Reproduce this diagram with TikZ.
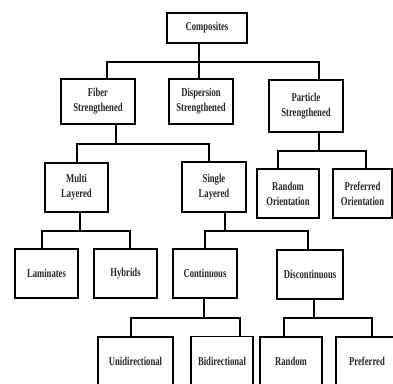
\documentclass[tikz,border=0pt]{standalone}
\usepackage{fontspec}
\setmainfont{Liberation Serif}[FakeStretch=0.72]
\begin{document}
\begin{tikzpicture}[x=1pt,y=-1pt,
  box/.style={draw=black,line width=1.7pt,fill=white,inner sep=0pt,align=center,
    font=\fontsize{12}{15}\selectfont\bfseries,text=black!85},
  conn/.style={line width=1.7pt,line join=miter}]
\useasboundingbox (0,0) rectangle (393,383);
\clip (0,0) rectangle (393,383);
% level 0
\node[box,minimum width=80pt,minimum height=30pt] (comp) at (207,28) {Composites};
% level 1
\node[box,minimum width=74pt,minimum height=45pt] (fib) at (98,101.5) {Fiber\\Strengthened};
\node[box,minimum width=64pt,minimum height=45pt] (dis) at (201,101.5) {Dispersion\\Strengthened};
\node[box,minimum width=74pt,minimum height=52pt] (part) at (306,106) {Particle\\Strengthened};
% level 2
\node[box,minimum width=63pt,minimum height=49pt] (multi) at (76.5,187.5) {Multi\\Layered};
\node[box,minimum width=64pt,minimum height=50pt] (single) at (214,187) {Single\\Layered};
\node[box,minimum width=62pt,minimum height=49pt] (ro) at (288,193.5) {Random\\Orientation};
\node[box,minimum width=59pt,minimum height=49pt] (po) at (362.5,193.5) {Preferred\\Orientation};
% level 3
\node[box,minimum width=63pt,minimum height=49pt] (lam) at (46.5,273.5) {Laminates};
\node[box,minimum width=63pt,minimum height=49pt] (hyb) at (125.5,273.5) {Hybrids};
\node[box,minimum width=64pt,minimum height=49pt] (cont) at (205,273.5) {Continuous};
\node[box,minimum width=66pt,minimum height=49pt] (disc) at (310,274.5) {Discontinuous};
% level 4
\node[box,minimum width=75pt,minimum height=49pt] (uni) at (135.5,361.5) {Unidirectional};
\node[box,minimum width=62pt,minimum height=49pt] (bi) at (222,361) {Bidirectional};
\node[box,minimum width=62pt,minimum height=49pt] (rnd) at (291,361.5) {Random};
\node[box,minimum width=62pt,minimum height=49pt] (pref) at (367,361.5) {Preferred};
% connectors
\draw[conn] ([xshift=-8pt]comp.south) -- ([xshift=-8pt]comp.south |- dis.north);
\draw[conn] ([xshift=9pt]fib.north) -- (107,62) -- (319,62) -- ([xshift=13pt]part.north);
\draw[conn] ([xshift=18pt]fib.south) -- (116,144);
\draw[conn] ([xshift=0.5pt]multi.north) -- (77,144) -- (209,144) -- ([xshift=-5pt]single.north);
\draw[conn] ([xshift=13pt]part.south) -- (319,151);
\draw[conn] ([xshift=-10pt]ro.north) -- (278,151) -- (366,151) -- ([xshift=3.5pt]po.north);
\draw[conn] ([xshift=3.5pt]multi.south) -- (80,231);
\draw[conn] ([xshift=-4.5pt]lam.north) -- (42,231) -- (130,231) -- ([xshift=4.5pt]hyb.north);
\draw[conn] ([xshift=11pt]single.south) -- (225,231);
\draw[conn] (cont.north) -- (205,231) -- (308,231) -- ([xshift=-2pt]disc.north);
\draw[conn] ([xshift=-1pt]cont.south) -- (204,318);
\draw[conn] ([xshift=-4.5pt]uni.north) -- (131,318) -- (240,318) -- ([xshift=18pt]bi.north);
\draw[conn] ([xshift=4pt]disc.south) -- (314,318);
\draw[conn] ([xshift=-7pt]rnd.north) -- (284,318) -- (372,318) -- ([xshift=5pt]pref.north);
\end{tikzpicture}
\end{document}
